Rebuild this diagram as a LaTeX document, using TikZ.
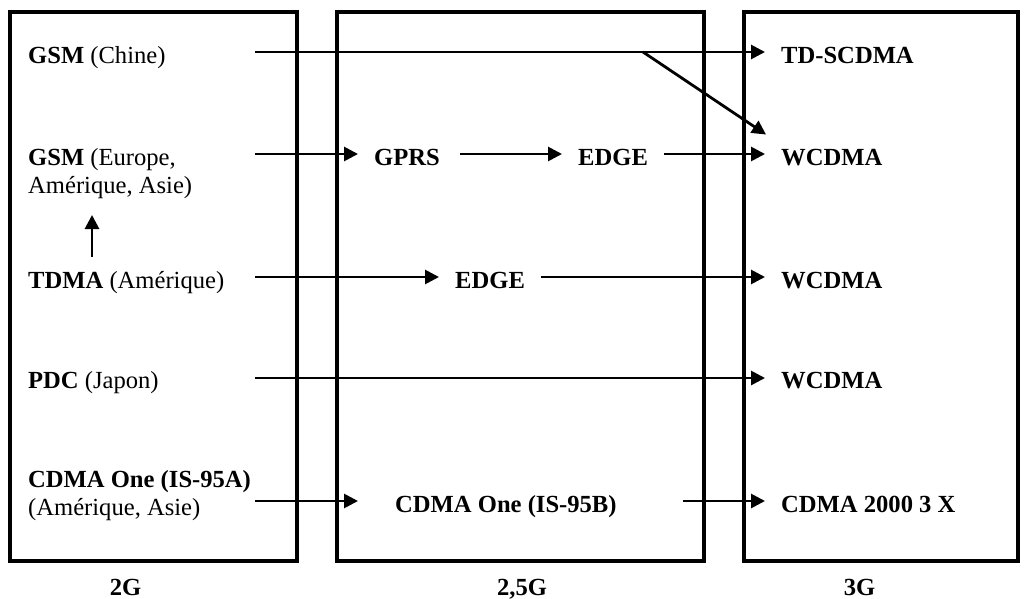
\documentclass[tikz,border=0pt]{standalone}
\usepackage{fontspec}
\setmainfont{Liberation Serif}
\usetikzlibrary{arrows.meta}
\begin{document}
\begin{tikzpicture}[x=1pt,y=-1pt,
 box/.style={line width=3.2pt},
 lbl/.style={anchor=base west,inner sep=0pt,font=\fontsize{24.6}{28}\selectfont},
 bl/.style={lbl,font=\fontsize{24.6}{28}\selectfont\bfseries},
 captxt/.style={anchor=base,inner sep=0pt,font=\fontsize{24.6}{28}\selectfont\bfseries},
 arr/.style={line width=2.8pt,-{Triangle[length=14pt,width=14pt]}}]
\useasboundingbox (0,0) rectangle (1025,599);
% columns
\draw[box] (10,12) rectangle (297,561);
\draw[box] (337,12) rectangle (704,561);
\draw[box] (744,12) rectangle (1018,561);
% left column
\node[lbl] (gsmc) at (28,64) {\textbf{GSM} (Chine)};
\node[lbl] (gsme) at (28,165) {\textbf{GSM} (Europe,};
\node[lbl] (gsme2) at (28,193) {Amérique, Asie)};
\node[lbl] (tdma) at (28,288) {\textbf{TDMA} (Amérique)};
\node[lbl] (pdc) at (28,388) {\textbf{PDC} (Japon)};
\node[bl] (cdma1) at (28,487) {CDMA One (IS-95A)};
\node[lbl] (cdma1b) at (28,515) {(Amérique, Asie)};
% middle column
\node[bl] (gprs) at (374,165) {GPRS};
\node[bl] (edgea) at (578,165) {EDGE};
\node[bl] (edgeb) at (455,288) {EDGE};
\node[bl] (cdmab) at (395,512) {CDMA One (IS-95B)};
% right column
\node[bl] (td) at (781,64) {TD-SCDMA};
\node[bl] (w1) at (781,165) {WCDMA};
\node[bl] (w2) at (781,288) {WCDMA};
\node[bl] (w3) at (781,388) {WCDMA};
\node[bl] (c3) at (781,512) {CDMA 2000 3 X};
% captions
\node[captxt] (g2) at (125.5,595) {2G};
\node[captxt] (g25) at (522,595) {2,5G};
\node[captxt] (g3) at (859.5,595) {3G};
% start points
\coordinate (s1) at (255,52);
\coordinate (s2) at (255,154);
\coordinate (s3) at (255,277);
\coordinate (s4) at (255,378);
\coordinate (s5) at (255,501);
\coordinate (d1) at (643,52);
\coordinate (u1) at (92,257);
\coordinate (u2) at (92,215);
% connectors
\draw[arr,shorten >=16pt] (s1) -- (s1 -| td.west);
\draw[arr] (d1) -- ([shift={(-15pt,14pt)}]w1.north west);
\draw[arr,shorten >=16pt] (s2) -- (s2 -| gprs.west);
\draw[arr,shorten <=20pt,shorten >=16pt] (s2 -| gprs.east) -- (s2 -| edgea.west);
\draw[arr,shorten <=16pt,shorten >=16pt] (s2 -| edgea.east) -- (s2 -| w1.west);
\draw[arr,shorten >=16pt] (s3) -- (s3 -| edgeb.west);
\draw[arr,shorten <=16pt,shorten >=16pt] (s3 -| edgeb.east) -- (s3 -| w2.west);
\draw[arr,shorten >=16pt] (s4) -- (s4 -| w3.west);
\draw[arr,shorten >=37pt] (s5) -- (s5 -| cdmab.west);
\draw[arr,shorten <=66pt,shorten >=16pt] (s5 -| cdmab.east) -- (s5 -| c3.west);
\draw[arr] (u1) -- (u2);
\end{tikzpicture}
\end{document}
